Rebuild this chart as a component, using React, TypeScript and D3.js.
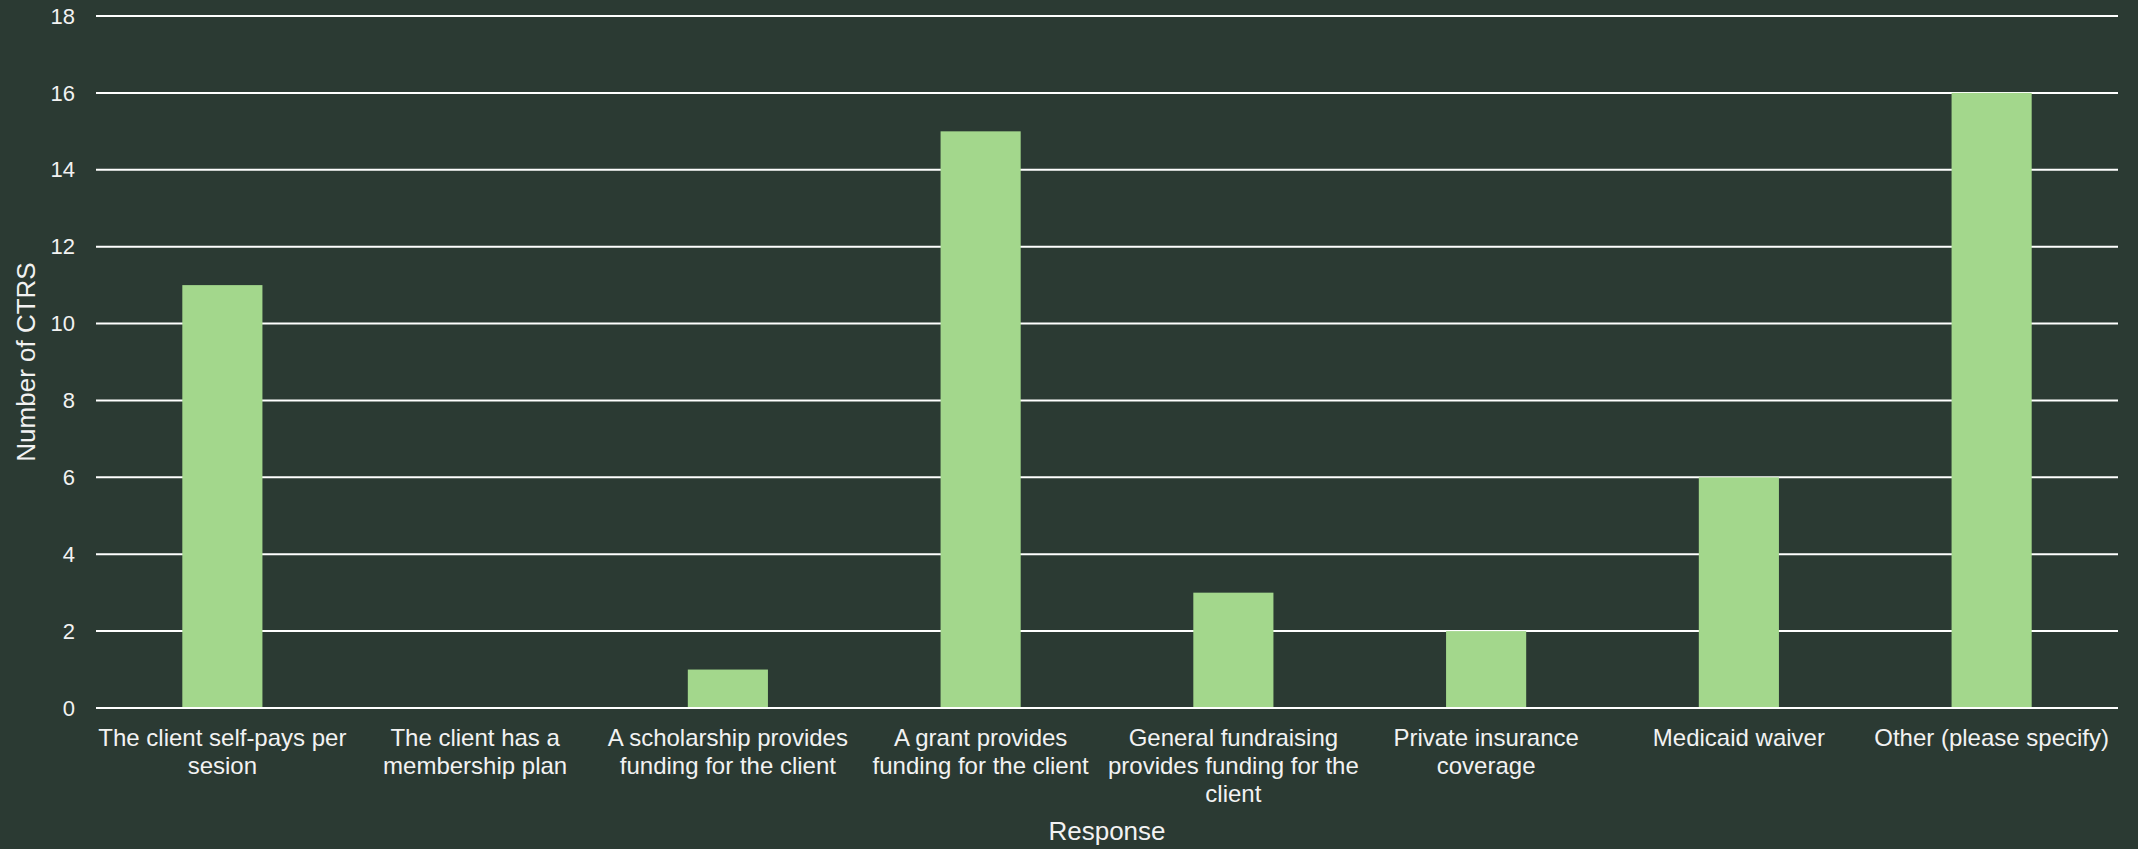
import React from "react";
import * as d3 from "d3";

const categories: string[][] = [
  ["The client self-pays per", "sesion"],
  ["The client has a", "membership plan"],
  ["A scholarship provides", "funding for the client"],
  ["A grant provides", "funding for the client"],
  ["General fundraising", "provides funding for the", "client"],
  ["Private insurance", "coverage"],
  ["Medicaid waiver"],
  ["Other (please specify)"],
];
const values: number[] = [11, 0, 1, 15, 3, 2, 6, 16];
const yTicks: number[] = [0, 2, 4, 6, 8, 10, 12, 14, 16, 18];
const yTitle = "Number of CTRS";
const xTitle = "Response";

if (typeof document !== "undefined") {
  document.body.style.margin = "0";
}

export default function App() {
  const W = 2138;
  const H = 849;
  const left = 96;
  const right = 2118;
  const top = 16;
  const bottom = 708;
  const font = "'Liberation Sans', Arial, sans-serif";
  const textColor = "#f2f2f2";

  const x = d3
    .scaleBand<number>()
    .domain(values.map((_, i) => i))
    .range([left, right])
    .paddingInner(0.683)
    .paddingOuter(0.3415);
  const y = d3.scaleLinear().domain([0, 18]).range([bottom, top]);

  return (
    <svg width={W} height={H} style={{ display: "block" }} fontFamily={font}>
      <rect x={0} y={0} width={W} height={H} fill="#2b3a33" />
      {yTicks.map((t) => (
        <g key={t}>
          <line x1={left} x2={right} y1={y(t)} y2={y(t)} stroke="#ffffff" strokeWidth={2} />
          <text x={75} y={y(t)} dy="0.35em" textAnchor="end" fontSize={22} fill={textColor}>
            {t}
          </text>
        </g>
      ))}
      {values.map((v, i) => (
        <rect
          key={i}
          x={x(i)}
          y={y(v)}
          width={x.bandwidth()}
          height={Math.max(0, y(0) - y(v) - 1)}
          fill="#a3d78c"
        />
      ))}
      {categories.map((lines, i) => {
        const cx = (x(i) as number) + x.bandwidth() / 2;
        return (
          <text key={i} textAnchor="middle" fontSize={24} fill={textColor}>
            {lines.map((l, j) => (
              <tspan key={j} x={cx} y={746 + j * 28}>
                {l}
              </tspan>
            ))}
          </text>
        );
      })}
      <text
        x={(left + right) / 2}
        y={840}
        textAnchor="middle"
        fontSize={26}
        fill={textColor}
      >
        {xTitle}
      </text>
      <text
        transform={`translate(35, ${(top + bottom) / 2}) rotate(-90)`}
        textAnchor="middle"
        fontSize={26}
        fill={textColor}
      >
        {yTitle}
      </text>
    </svg>
  );
}
